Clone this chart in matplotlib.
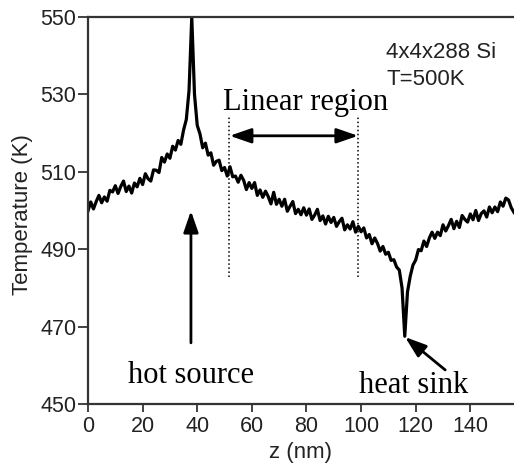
import numpy as np
import matplotlib.pyplot as plt

plt.rcParams['font.family'] = ['Liberation Sans', 'DejaVu Sans']

# perfil de temperatura (1 punto por nm)
z = np.arange(0, 157)
temp = [
    499.9, 502.2, 500.4, 502.3, 503.9, 502.0, 503.5, 502.4, 505.2, 504.8,
    506.4, 504.4, 506.2, 507.6, 504.9, 506.3, 504.5, 507.1, 506.1, 508.3,
    506.7, 509.5, 508.2, 507.6, 510.5, 510.4, 509.8, 513.7, 512.5, 514.6,
    513.5, 516.6, 515.6, 518.1, 517.1, 520.8, 523.5, 531.0, 550.0, 530.0,
    522.0, 519.8, 516.2, 517.4, 514.3, 514.9, 511.7, 512.7, 513.0, 510.3,
    511.1, 508.9, 511.3, 508.7, 508.9, 507.3, 509.1, 507.8, 505.4, 507.2,
    505.7, 507.2, 503.9, 505.3, 503.4, 505.0, 503.6, 501.7, 504.7, 501.6,
    502.9, 501.1, 502.9, 499.8, 501.1, 502.3, 499.2, 500.3, 498.9, 500.7,
    498.8, 500.4, 497.7, 498.8, 500.3, 497.4, 498.6, 496.5, 498.5, 496.9,
    498.2, 495.9, 497.1, 498.0, 495.0, 496.3, 495.2, 497.1, 494.4, 495.9,
    494.5, 495.5, 492.9, 493.8, 491.4, 492.9, 491.5, 489.5, 490.7, 488.7,
    489.2, 487.1, 487.3, 485.4, 484.6, 480.0, 467.5, 479.0, 483.0, 485.9,
    487.2, 489.9, 489.6, 492.1, 490.7, 492.9, 494.4, 492.8, 494.4, 493.5,
    496.3, 494.7, 496.1, 497.7, 495.3, 497.2, 495.6, 498.7, 497.7, 497.0,
    499.1, 497.6, 500.0, 497.4, 499.2, 499.9, 498.3, 500.9, 499.4, 500.9,
    499.7, 502.2, 501.1, 503.2, 502.7, 500.7, 499.5,
]

xticks = [0, 20, 40, 60, 80, 100, 120, 140]
yticks = [450, 470, 490, 510, 530, 550]

fig = plt.figure(figsize=(5.14, 4.68), dpi=100)
ax = fig.add_axes([0.1712, 0.1368, 0.8288, 0.8269])

ax.plot(z, temp, color='black', lw=2.3)

# región lineal
ax.plot([51.6, 51.6], [482.8, 524.7], ls=':', color='black', lw=1.1)
ax.plot([99.0, 99.0], [482.8, 524.7], ls=':', color='black', lw=1.1)
ax.annotate('', xy=(51.9, 519.3), xytext=(98.9, 519.3),
            arrowprops=dict(arrowstyle='<|-|>,head_length=1.3,head_width=0.45',
                            color='black', lw=2, shrinkA=0, shrinkB=0))
ax.text(49.5, 526.0, 'Linear region', family='Liberation Serif',
        fontsize=22, va='baseline', ha='left')

# fuente caliente
ax.annotate('', xy=(37.7, 499.9), xytext=(37.7, 465.8),
            arrowprops=dict(arrowstyle='-|>,head_length=1.3,head_width=0.45',
                            color='black', lw=2, shrinkA=0, shrinkB=0))
ax.text(14.7, 455.4, 'hot source', family='Liberation Serif',
        fontsize=22, va='baseline', ha='left')

# sumidero
ax.annotate('', xy=(116.1, 467.3), xytext=(130.8, 458.8),
            arrowprops=dict(arrowstyle='-|>,head_length=1.3,head_width=0.45',
                            color='black', lw=2, shrinkA=0, shrinkB=0))
ax.text(99.3, 452.8, 'heat sink', family='Liberation Serif',
        fontsize=22, va='baseline', ha='left')

ax.text(109.2, 539.4, '4x4x288 Si', fontsize=16, va='baseline', color='#222222')
ax.text(109.2, 532.4, 'T=500K', fontsize=16, va='baseline', color='#222222')

ax.set_xlim(0, 156)
ax.set_ylim(450, 550)
ax.set_xticks(xticks)
ax.set_yticks(yticks)
ax.tick_params(axis='both', labelsize=15.5, colors='#222222', width=1.2)
ax.tick_params(axis='y', length=7.5, pad=1)
ax.tick_params(axis='x', length=6, pad=3)
for s in ['left', 'bottom', 'top']:
    ax.spines[s].set_linewidth(1.6)
    ax.spines[s].set_color('#333333')
ax.spines['right'].set_visible(False)

ax.set_xlabel('z (nm)', fontsize=16, color='#222222')
ax.set_ylabel('Temperature (K)', fontsize=16, color='#222222')
ax.xaxis.set_label_coords(0.5, -0.099)
ax.yaxis.set_label_coords(-0.128, 0.49)

fig.savefig('out.png', dpi=100)
